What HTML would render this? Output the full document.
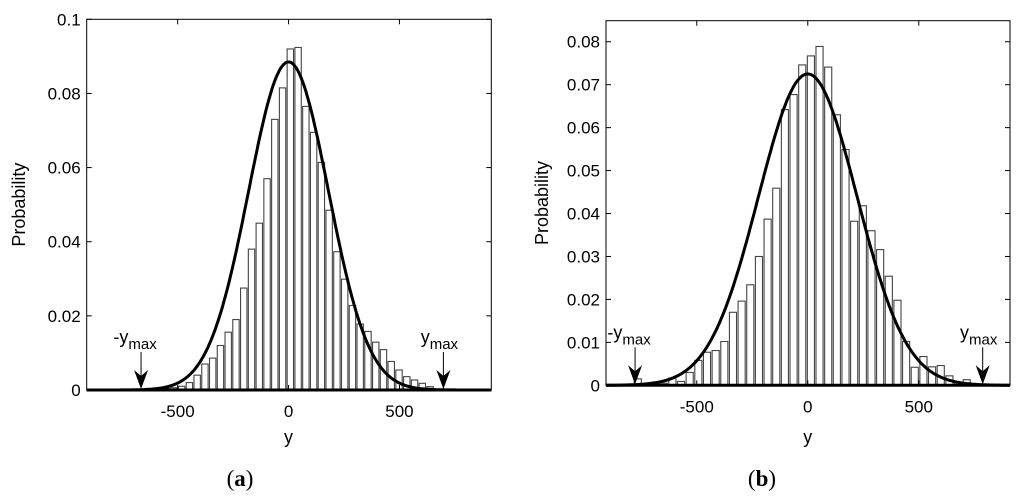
<!DOCTYPE html>
<html><head><meta charset="utf-8">
<style>
html,body{margin:0;padding:0;background:#fff;}
svg{display:block;font-family:"Liberation Sans",Arial,sans-serif;}
</style></head>
<body>
<svg id="fig" width="1024" height="501" viewBox="0 0 1024 501" xmlns="http://www.w3.org/2000/svg"></svg>
<script>
// Panel (a) data
const aBinStart = -552, aBinWidth = 35;
const aValues = [0.0004,0.0006,0.001,0.002,0.004,0.007,0.0086,0.012,0.0156,0.019,0.0275,0.038,0.045,0.057,0.073,0.0815,0.092,0.0924,0.0765,0.0695,0.0614,0.0485,0.0373,0.0299,0.0228,0.0178,0.0158,0.0129,0.0109,0.0077,0.0054,0.0036,0.0027,0.0018,0.0009];
const aFit = {mu:0, sigma:180, peak:0.0885};
const aYTicks = [0,0.02,0.04,0.06,0.08,0.1];
const aYTickLabels = ["0","0.02","0.04","0.06","0.08","0.1"];
const aXTicks = [-500,0,500];
const aXTickLabels = ["-500","0","500"];
const aYmax = [-665, 698];
// Panel (b) data
const bBinStart = -766, bBinWidth = 39;
const bValues = [0.0015,0.0003,0.0004,0.0005,0.0017,0.0009,0.003,0.0058,0.0077,0.0081,0.0102,0.017,0.0196,0.0234,0.030,0.0387,0.0459,0.0642,0.0677,0.0746,0.0767,0.0789,0.0741,0.063,0.0549,0.0382,0.0418,0.036,0.0316,0.0254,0.0198,0.0102,0.0042,0.0067,0.0043,0.0046,0.0022,0.0007,0.0013];
const bFit = {mu:0, sigma:222, peak:0.0725};
const bYTicks = [0,0.01,0.02,0.03,0.04,0.05,0.06,0.07,0.08];
const bYTickLabels = ["0","0.01","0.02","0.03","0.04","0.05","0.06","0.07","0.08"];
const bXTicks = [-500,0,500];
const bXTickLabels = ["-500","0","500"];
const bYmax = [-778, 788];

const NS = "http://www.w3.org/2000/svg";
const svg = document.getElementById('fig');
function mk(tag, attrs, parent){const e=document.createElementNS(NS,tag);for(const k in attrs)e.setAttribute(k,attrs[k]);(parent||svg).appendChild(e);return e;}

function panel(cfg){
  const g = mk('g',{});
  
  
  const X = v => cfg.px0 + (v - cfg.x0)/(cfg.x1 - cfg.x0)*(cfg.px1 - cfg.px0);
  const Y = v => cfg.py0 - (v - cfg.y0)/(cfg.y1 - cfg.y0)*(cfg.py0 - cfg.py1);
  cfg.values.forEach((v,i)=>{
    const c = cfg.binStart + i*cfg.binWidth;
    const w = (X(cfg.binWidth) - X(0))*0.82;
    const r = mk('rect',{x:X(c)-w/2,y:Y(v),width:w,height:Y(0)-Y(v),fill:'#fff',stroke:'#444','stroke-width':1.1},g);
    
    
  });
  let d='';
  for(let x=cfg.x0;x<=cfg.x1;x+=4){
    const v = cfg.fit.peak*Math.exp(-Math.pow((x-cfg.fit.mu)/cfg.fit.sigma,2)/2);
    d += (d?'L':'M')+X(x).toFixed(1)+' '+Y(v).toFixed(1);
  }
  const p = mk('path',{d:d,fill:'none',stroke:'#000','stroke-width':3},g);
  
  
  const box = mk('rect',{x:cfg.px0,y:cfg.py1,width:cfg.px1-cfg.px0,height:cfg.py0-cfg.py1,fill:'none',stroke:'#000','stroke-width':1},g);
  
  
  mk('line',{x1:cfg.px0,y1:cfg.py0,x2:cfg.px1,y2:cfg.py0,stroke:'#000','stroke-width':3},g);
  cfg.yTicks.forEach((t,i)=>{
    mk('line',{x1:cfg.px0,y1:Y(t),x2:cfg.px0+5,y2:Y(t),stroke:'#000'},g);
    mk('line',{x1:cfg.px1,y1:Y(t),x2:cfg.px1-5,y2:Y(t),stroke:'#000'},g);
    const tx = mk('text',{x:cfg.px0-6,y:Y(t)+6,'text-anchor':'end','font-size':17},g);
    tx.textContent = cfg.yTickLabels[i];
    
    
  });
  cfg.xTicks.forEach((t,i)=>{
    mk('line',{x1:X(t),y1:cfg.py0,x2:X(t),y2:cfg.py0-5,stroke:'#000'},g);
    mk('line',{x1:X(t),y1:cfg.py1,x2:X(t),y2:cfg.py1+5,stroke:'#000'},g);
    const tx = mk('text',{x:X(t),y:cfg.py0+27,'text-anchor':'middle','font-size':17},g);
    tx.textContent = cfg.xTickLabels[i];
    
    
  });
  const yt = mk('text',{x:0,y:0,transform:`translate(${cfg.yTitleX},${(cfg.py0+cfg.py1)/2}) rotate(-90)`,'text-anchor':'middle','font-size':18},g);
  yt.textContent='Probability';
  
  
  const xt = mk('text',{x:X(0),y:443,'text-anchor':'middle','font-size':18},g);
  xt.textContent='y';
  
  
  const lab = mk('text',{x:cfg.labelX,y:486,'text-anchor':'middle','font-size':23,'font-family':'"Liberation Serif",serif'},g);
  lab.innerHTML = '(<tspan font-weight="bold">'+cfg.label+'</tspan>)';
  
  
  cfg.ymax.forEach((v,i)=>{
    const x = X(v), base = Y(0);
    const ag = mk('g',{},g);
    
    
    mk('line',{x1:x,y1:base-38,x2:x,y2:base-12,stroke:'#000','stroke-width':1},ag);
    mk('path',{d:`M${x-7} ${base-20} L${x} ${base-1} L${x+7} ${base-20} L${x} ${base-14} Z`,fill:'#000'},ag);
    const t = mk('text',{x:x-(i===0?6:4),y:base-47,'text-anchor':'middle','font-size':18},ag);
    t.innerHTML = (i===0?'-y':'y')+'<tspan font-size="15" dy="6">max</tspan>';
  });
}

panel({name:'panel-a', px0:86.7, px1:491.3, py0:390, py1:19.3, x0:-910, x1:914, y0:0, y1:0.1,
  values:aValues, binStart:aBinStart, binWidth:aBinWidth, fit:aFit,
  yTicks:aYTicks, yTickLabels:aYTickLabels, xTicks:aXTicks, xTickLabels:aXTickLabels,
  ymax:aYmax, yTitleX:25, labelX:240, label:'a'});
panel({name:'panel-b', px0:606, px1:1010, py0:385.3, py1:20.7, x0:-909, x1:911, y0:0, y1:0.0849,
  values:bValues, binStart:bBinStart, binWidth:bBinWidth, fit:bFit,
  yTicks:bYTicks, yTickLabels:bYTickLabels, xTicks:bXTicks, xTickLabels:bXTickLabels,
  ymax:bYmax, yTitleX:548, labelX:762, label:'b'});
</script>
</body></html>
